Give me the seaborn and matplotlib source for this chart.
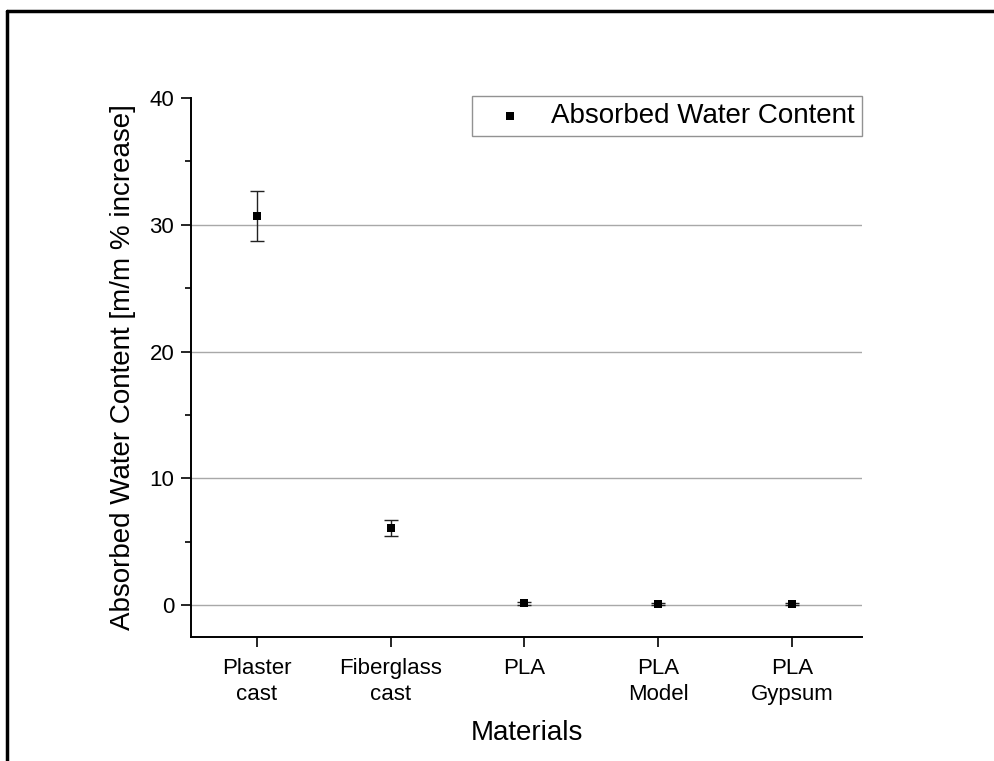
import matplotlib
matplotlib.use("Agg")
import matplotlib.pyplot as plt
import seaborn as sns
import pandas as pd
from matplotlib.lines import Line2D

materials = ["Plaster\ncast", "Fiberglass\ncast", "PLA", "PLA\nModel", "PLA\nGypsum"]
water = [30.7, 6.1, 0.15, 0.12, 0.12]
err = [1.95, 0.6, 0.1, 0.1, 0.1]
yticks = [0, 10, 20, 30, 40]

sns.set_theme(style="white")
plt.rcParams['font.family'] = ['Liberation Sans', 'DejaVu Sans']

fig = plt.figure(figsize=(9.95, 7.61), dpi=100)
ax = fig.add_axes([191/995, 1-637/761, 671/995, 539/761])

df = pd.DataFrame({"x": range(len(materials)), "y": water, "e": err})

for v in [0, 10, 20, 30]:
    ax.axhline(v, color="#a8a8a8", lw=1.0, zorder=0)

ax.errorbar(df["x"], df["y"], yerr=df["e"], fmt="none", ecolor="#222222",
            elinewidth=1.0, capsize=5, capthick=1.0, zorder=2)
sns.scatterplot(data=df, x="x", y="y", marker="s", s=40, color="black",
                edgecolor="black", linewidth=0, ax=ax, zorder=3,
                label="Absorbed Water Content")

ax.set_xlim(-0.49, 4.52)
ax.set_ylim(-2.5, 40)
ax.set_xticks(range(len(materials)))
ax.set_xticklabels(materials, fontsize=16, linespacing=1.3)
ax.set_yticks(yticks)
ax.set_yticklabels([str(t) for t in yticks], fontsize=16)
ax.set_yticks([5, 15, 25, 35], minor=True)
ax.tick_params(axis="x", which="major", pad=8)
ax.tick_params(axis="both", which="major", direction="out", length=7, width=1.2,
               color="black", labelcolor="black", bottom=True, left=True)
ax.tick_params(axis="y", which="major", pad=5)
ax.tick_params(axis="y", which="minor", direction="out", length=4, width=1.2,
               color="black", left=True)
ax.spines["top"].set_visible(False)
ax.spines["right"].set_visible(False)
for s in ["left", "bottom"]:
    ax.spines[s].set_color("black")
    ax.spines[s].set_linewidth(1.4)

ax.set_xlabel("Materials", fontsize=20, color="black", labelpad=11)
ax.set_ylabel("Absorbed Water Content [m/m % increase]", fontsize=20, color="black", labelpad=10)

leg = ax.legend(loc="upper right", bbox_to_anchor=(1.0, 1.003), fontsize=20,
                frameon=True, fancybox=False, borderaxespad=0, handletextpad=0.4,
                borderpad=0.25, markerscale=1.0, handlelength=2.2)
leg.get_frame().set_edgecolor("#777777")
leg.get_frame().set_linewidth(1.0)
for t in leg.get_texts():
    t.set_color("black")

# outer image frame (top and left)
fig.add_artist(Line2D([7/995, 1], [1-11/761, 1-11/761], color="black", lw=2.5, transform=fig.transFigure))
fig.add_artist(Line2D([7/995, 7/995], [0, 1-11/761], color="black", lw=2.5, transform=fig.transFigure))

fig.savefig("out.png", dpi=100)
